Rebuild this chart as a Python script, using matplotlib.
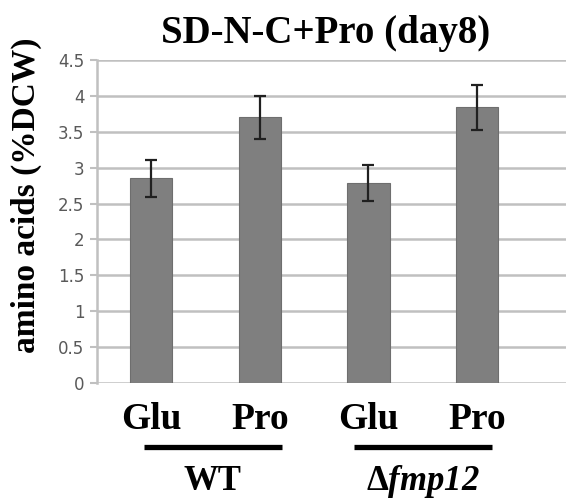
import matplotlib
matplotlib.use("Agg")
import matplotlib.pyplot as plt
import matplotlib.transforms as mtransforms

# Data
categories = ["Glu", "Pro", "Glu", "Pro"]
values = [2.85, 3.70, 2.79, 3.84]
errors = [0.26, 0.30, 0.25, 0.31]
groups = ["WT", r"$\mathbf{\Delta}fmp12$"]
group_spans = [(-0.07, 1.2), (1.87, 3.14)]
y_ticks = [0, 0.5, 1, 1.5, 2, 2.5, 3, 3.5, 4, 4.5]

plt.rcParams["mathtext.fontset"] = "custom"
plt.rcParams["mathtext.rm"] = "Liberation Serif:bold:italic"
plt.rcParams["mathtext.it"] = "Liberation Serif:bold:italic"
plt.rcParams["mathtext.bf"] = "Liberation Serif:bold"

serif = "Liberation Serif"
grid_col = "#c0c0c0"

fig = plt.figure(figsize=(5.66, 5.0), dpi=100)
ax = fig.add_axes([97 / 566, 117 / 500, 469 / 566, 323 / 500])

x = list(range(len(categories)))
ax.bar(x, values, width=0.39, color="#7f7f7f", edgecolor="#6e6e6e", linewidth=0.8, zorder=2)
ax.errorbar(x, values, yerr=errors, fmt="none", ecolor="#202020", elinewidth=1.6,
            capsize=4, capthick=1.6, zorder=3)

ax.set_xlim(-0.5, 3.82)
ax.set_ylim(0, 4.5)
ax.set_yticks(y_ticks)
ax.set_yticklabels([f"{t:g}" for t in y_ticks], fontfamily="DejaVu Sans", fontsize=12, color="#595959")
ax.yaxis.grid(True, color=grid_col, linewidth=1.8, zorder=0)
ax.set_axisbelow(True)
ax.tick_params(axis="y", length=5, width=1.5, color=grid_col, pad=4)
ax.tick_params(axis="x", length=0, pad=14)
for s in ["top", "right", "bottom"]:
    ax.spines[s].set_visible(False)
ax.spines["left"].set_color(grid_col)
ax.spines["left"].set_linewidth(1.8)

ax.set_xticks(x)
ax.set_xticklabels(categories, fontfamily=serif, fontweight="bold", fontsize=27)

ax.set_ylabel("amino acids (%DCW)", fontfamily=serif, fontweight="bold", fontsize=24)
ax.yaxis.set_label_coords(-0.117, 0.58)

fig.text(326 / 566, 1 - 33 / 500, "SD-N-C+Pro (day8)", fontfamily=serif, fontweight="bold",
         fontsize=28, ha="center", va="center")

# group underlines and labels
trans = mtransforms.blended_transform_factory(ax.transData, fig.transFigure)
for (a, b), g in zip(group_spans, groups):
    ax.plot([a, b], [1 - 447 / 500] * 2, transform=trans, color="black", linewidth=3.8,
            solid_capstyle="butt", clip_on=False)
    ax.text((a + b) / 2, 1 - 482 / 500, g, transform=trans, fontfamily=serif, fontweight="bold",
            fontsize=25, ha="center", va="center")

fig.savefig("out.png", dpi=100)
